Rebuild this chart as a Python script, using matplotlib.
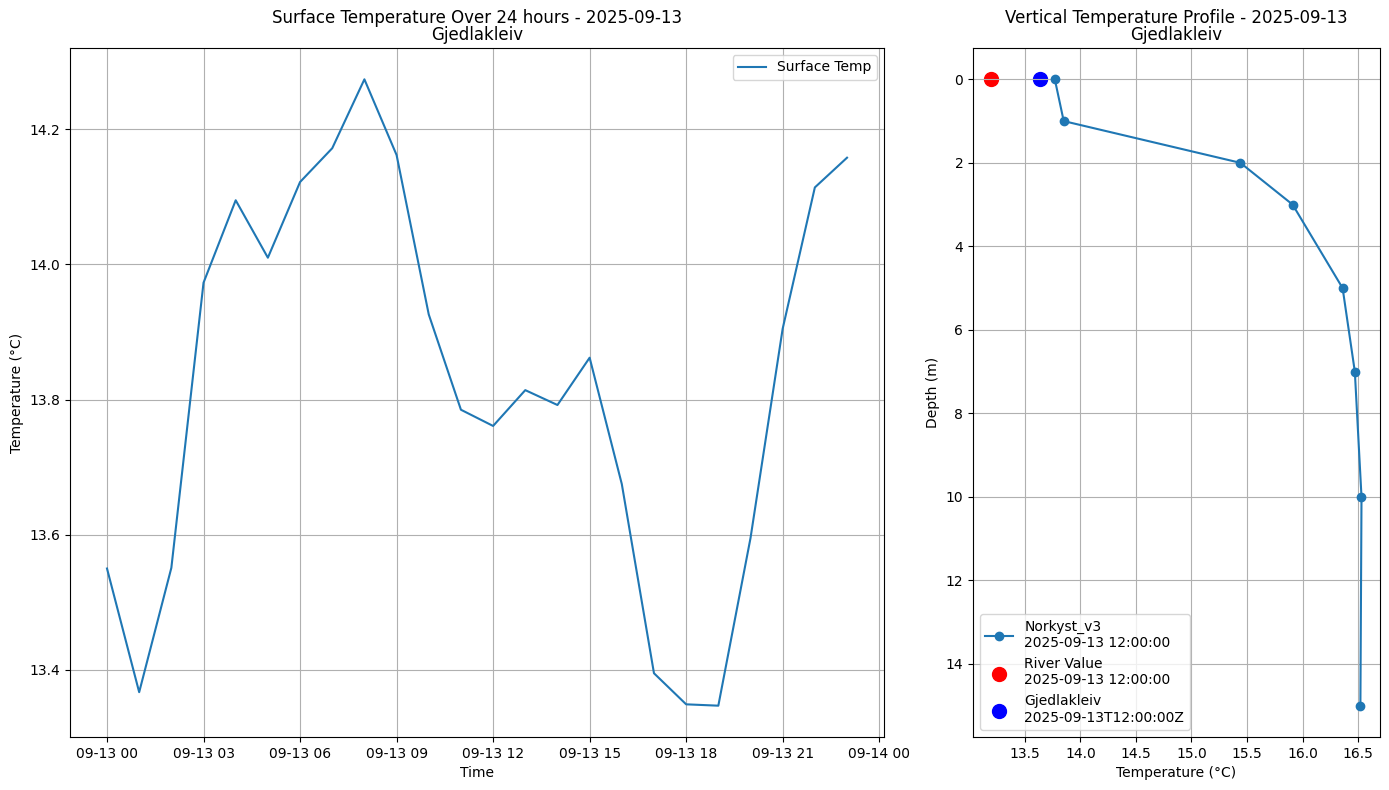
import matplotlib
matplotlib.use("Agg")
import matplotlib.pyplot as plt
import matplotlib.dates as mdates
import numpy as np
import pandas as pd

date = "2025-09-13"
site = "Gjedlakleiv"

times = pd.date_range("2025-09-13 00:00", periods=24, freq="h")
surface_temp = [13.55, 13.367, 13.551, 13.973, 14.095, 14.01, 14.122, 14.172, 14.274, 14.162,
                13.926, 13.785, 13.761, 13.814, 13.792, 13.862, 13.675, 13.395, 13.349, 13.347,
                13.595, 13.905, 14.114, 14.158]

depths = [0, 1, 2, 3, 5, 7, 10, 15]
profile_temp = [13.77, 13.85, 15.44, 15.91, 16.36, 16.47, 16.53, 16.52]

river_temp = 13.2
obs_temp = 13.635

fig, (ax1, ax2) = plt.subplots(1, 2, figsize=(13.89, 7.9), width_ratios=[2, 1])

ax1.plot(times, surface_temp, label="Surface Temp")
ax1.set_title(f"Surface Temperature Over 24 hours - {date}\n{site}", linespacing=0.92, pad=6)
ax1.set_xlabel("Time")
ax1.set_ylabel("Temperature (°C)")
ax1.xaxis.set_major_formatter(mdates.DateFormatter("%m-%d %H"))
ax1.grid(True)
ax1.legend()

ax2.plot(profile_temp, depths, marker="o", label=f"Norkyst_v3\n{date} 12:00:00")
ax2.scatter([river_temp], [0], color="red", s=100, label=f"River Value\n{date} 12:00:00")
ax2.scatter([obs_temp], [0], color="blue", s=100, label=f"{site}\n{date}T12:00:00Z")
ax2.invert_yaxis()
ax2.set_title(f"Vertical Temperature Profile - {date}\n{site}", linespacing=0.92, pad=6)
ax2.set_xlabel("Temperature (°C)")
ax2.set_ylabel("Depth (m)")
ax2.grid(True)
ax2.legend(loc="lower left")

fig.subplots_adjust(left=70/1389, right=1380/1389, top=1-48/790, bottom=1-737/790, wspace=0.1457)
plt.savefig("out.png", dpi=100)
